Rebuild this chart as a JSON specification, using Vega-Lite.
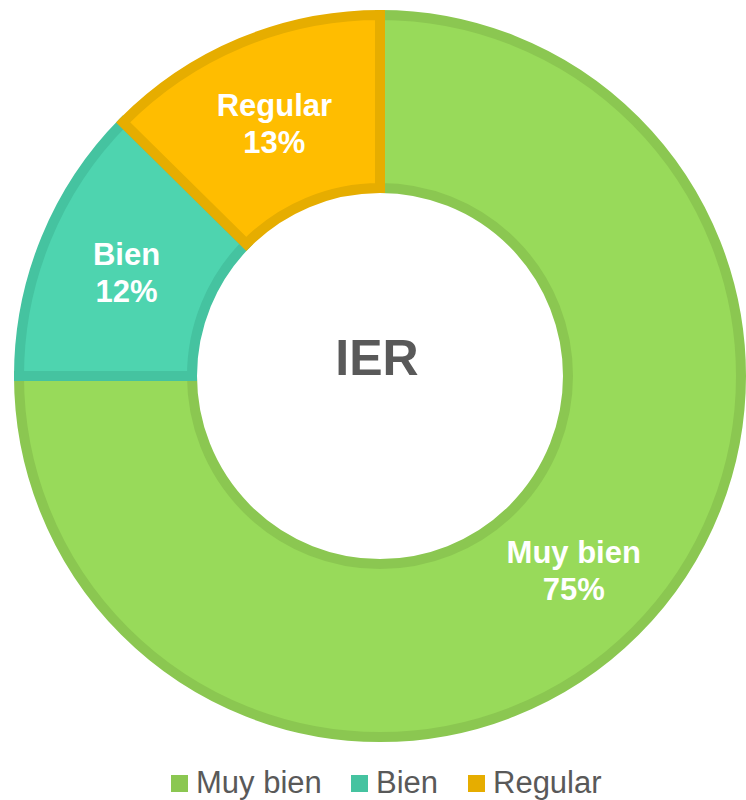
{
  "$schema": "https://vega.github.io/schema/vega-lite/v6.json",
  "width": 732,
  "height": 732,
  "padding": {"left": 14, "top": 10, "right": 0, "bottom": 58},
  "autosize": {"type": "none"},
  "background": "white",
  "config": {"view": {"stroke": null}, "font": "Liberation Sans"},
  "data": {
    "values": [
      {"categoria": "Muy bien", "valor": 75, "orden": 1},
      {"categoria": "Bien", "valor": 12.4, "orden": 2},
      {"categoria": "Regular", "valor": 12.6, "orden": 3}
    ]
  },
  "layer": [
    {
      "mark": {"type": "arc", "outerRadius": 361, "innerRadius": 188, "strokeWidth": 10, "strokeJoin": "miter"},
      "encoding": {
        "theta": {"field": "valor", "type": "quantitative", "stack": true},
        "order": {"field": "orden", "type": "quantitative"},
        "color": {
          "field": "categoria", "type": "nominal",
          "scale": {"domain": ["Muy bien", "Bien", "Regular"], "range": ["#98DA5A", "#4ED4AF", "#FFBD00"]},
          "legend": {
            "title": null,
            "orient": "none",
            "direction": "horizontal",
            "legendX": 150,
            "legendY": 758,
            "symbolType": "square",
            "symbolSize": 9,
            "symbolStrokeWidth": 14,
            "labelFontSize": 31,
            "labelColor": "#595959",
            "labelFont": "Liberation Sans",
            "labelOffset": 1,
            "columnPadding": 8
          }
        },
        "stroke": {
          "field": "categoria", "type": "nominal",
          "scale": {"domain": ["Muy bien", "Bien", "Regular"], "range": ["#8BC751", "#45C3A0", "#E6AD00"]}
        }
      }
    },
    {
      "transform": [{"calculate": "datum.categoria + '\\n' + format(datum.valor, '.0f') + '%'", "as": "etiqueta"}],
      "mark": {"type": "text", "radius": 274, "fontSize": 31, "fontWeight": "bold", "color": "white", "lineBreak": "\n", "lineHeight": 37, "baseline": "middle", "align": "center", "dy": -16, "font": "Liberation Sans"},
      "encoding": {
        "theta": {"field": "valor", "type": "quantitative", "stack": true},
        "order": {"field": "orden", "type": "quantitative"},
        "text": {"field": "etiqueta", "type": "nominal"}
      }
    },
    {
      "data": {"values": [{"t": "IER"}]},
      "mark": {"type": "text", "fontSize": 50, "fontWeight": "bold", "color": "#595959", "baseline": "middle", "align": "center", "dy": -16, "dx": -3, "font": "Liberation Sans"},
      "encoding": {"text": {"field": "t", "type": "nominal"}}
    }
  ]
}
